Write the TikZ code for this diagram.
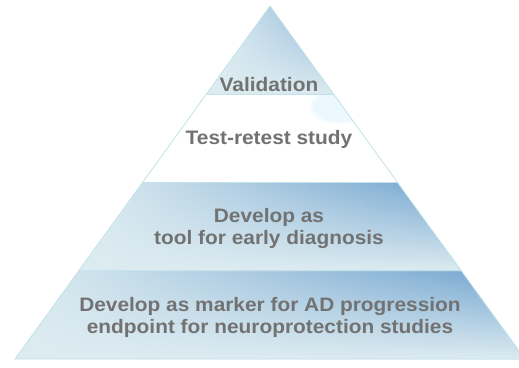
\documentclass[tikz,border=0pt]{standalone}
\usepackage{fontspec}
\setmainfont{Liberation Sans}
\newfontfamily\tierfont{Liberation Sans}[FakeStretch=1.07]
\usetikzlibrary{calc, fadings}

\definecolor{palecyan}{HTML}{DDECF1}
\definecolor{steelblue}{HTML}{70A3CF}
\definecolor{edgecyan}{HTML}{C3E2E9}
\definecolor{labelgray}{HTML}{727272}

% pale at the foot of a tier
\tikzfading[name=tierfoot, top color=transparent!100, middle color=transparent!80, bottom color=transparent!0]

\tikzset{
    tier/.style={draw=edgecyan, line width=0.8pt},
    tiertext/.style={text=labelgray, align=center,
        font=\tierfont\fontsize{19.5}{22}\selectfont\bfseries},
}

\begin{document}
\begin{tikzpicture}[x=1pt, y=-1pt]
    \useasboundingbox (0,0) rectangle (519,367);
    \clip (0,0) rectangle (519,367);

    \coordinate (apex)       at (270,6);
    \coordinate (base left)  at (15,359);
    \coordinate (base right) at (525,359);
    \coordinate (L1) at ($(apex)!0.25!(base left)$);
    \coordinate (R1) at ($(apex)!0.25!(base right)$);
    \coordinate (L2) at ($(apex)!0.5!(base left)$);
    \coordinate (R2) at ($(apex)!0.5!(base right)$);
    \coordinate (L3) at ($(apex)!0.75!(base left)$);
    \coordinate (R3) at ($(apex)!0.75!(base right)$);

    % bottom tier
    \shade[left color=palecyan, right color=steelblue] (L3) -- (R3) -- (base right) -- (base left) -- cycle;
    \fill[palecyan, path fading=tierfoot] (L3) -- (R3) -- (base right) -- (base left) -- cycle;
    \draw[tier] (L3) -- (R3) -- (base right) -- (base left) -- cycle;

    % third tier
    \shade[left color=palecyan, right color=steelblue] (L2) -- (R2) -- (R3) -- (L3) -- cycle;
    \fill[palecyan, path fading=tierfoot] (L2) -- (R2) -- (R3) -- (L3) -- cycle;
    \draw[tier] (L2) -- (R2) -- (R3) -- (L3) -- cycle;

    % second tier, white with a glow
    \fill[white] (L1) -- (R1) -- (R2) -- (L2) -- cycle;
    \begin{scope}
        \clip (L1) -- (R1) -- (R2) -- (L2) -- cycle;
        \fill[cyan!8, path fading=circle with fuzzy edge 20 percent] (340,106) ellipse (32 and 18);
    \end{scope}
    \draw[tier] (L1) -- (R1) -- (R2) -- (L2) -- cycle;

    % top tier
    \shade[left color=palecyan!70!white, right color=steelblue!85] (apex) -- (R1) -- (L1) -- cycle;
    \fill[palecyan, path fading=tierfoot] (apex) -- (R1) -- (L1) -- cycle;
    \draw[tier] (apex) -- (R1) -- (L1) -- cycle;

    \node[tiertext] (validation)      at (269,85)  {Validation};
    \node[tiertext] (test retest)     at (269,139) {Test-retest study};
    \node[tiertext] (early diagnosis) at (269,228) {Develop as\\tool for early diagnosis};
    \node[tiertext] (ad progression)  at (270,317) {Develop as marker for AD progression\\endpoint for neuroprotection studies};
\end{tikzpicture}
\end{document}
